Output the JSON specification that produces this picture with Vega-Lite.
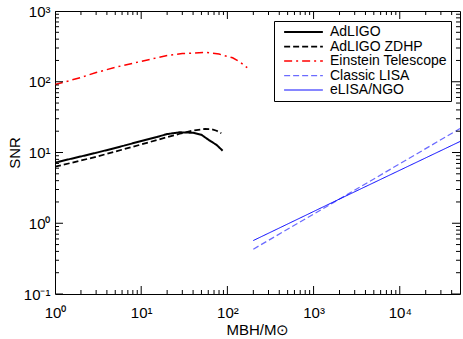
{
  "$schema": "https://vega.github.io/schema/vega-lite/v6.json",
  "width": 405,
  "height": 283,
  "autosize": "none",
  "padding": {"left": 55, "top": 11, "right": 3, "bottom": 45},
  "background": "white",
  "config": {
    "view": {"stroke": "black", "strokeWidth": 1},
    "font": "Liberation Sans",
    "axis": {"domain": false, "ticks": false, "grid": false, "labelColor": "black", "titleColor": "black", "labelFont": "Liberation Sans", "titleFont": "Liberation Sans", "titleFontWeight": "normal", "labelFontSize": 15, "titleFontSize": 15}
  },
  "datasets": {
    "curves": [
      {"series": "AdLIGO", "m": 1, "snr": 7.2},
      {"series": "AdLIGO", "m": 2, "snr": 8.8},
      {"series": "AdLIGO", "m": 3, "snr": 9.9},
      {"series": "AdLIGO", "m": 5, "snr": 11.6},
      {"series": "AdLIGO", "m": 10, "snr": 14.5},
      {"series": "AdLIGO", "m": 15, "snr": 16.5},
      {"series": "AdLIGO", "m": 20, "snr": 18.2},
      {"series": "AdLIGO", "m": 28, "snr": 19.3},
      {"series": "AdLIGO", "m": 40, "snr": 19.0},
      {"series": "AdLIGO", "m": 50, "snr": 17.8},
      {"series": "AdLIGO", "m": 62, "snr": 14.8},
      {"series": "AdLIGO", "m": 75, "snr": 12.8},
      {"series": "AdLIGO", "m": 88, "snr": 10.6},
      {"series": "AdLIGO ZDHP", "m": 1, "snr": 6.3},
      {"series": "AdLIGO ZDHP", "m": 2, "snr": 7.7},
      {"series": "AdLIGO ZDHP", "m": 3, "snr": 8.7},
      {"series": "AdLIGO ZDHP", "m": 5, "snr": 10.3},
      {"series": "AdLIGO ZDHP", "m": 10, "snr": 13.0},
      {"series": "AdLIGO ZDHP", "m": 20, "snr": 16.5},
      {"series": "AdLIGO ZDHP", "m": 28, "snr": 18.4},
      {"series": "AdLIGO ZDHP", "m": 40, "snr": 20.5},
      {"series": "AdLIGO ZDHP", "m": 55, "snr": 21.5},
      {"series": "AdLIGO ZDHP", "m": 65, "snr": 21.4},
      {"series": "AdLIGO ZDHP", "m": 75, "snr": 20.3},
      {"series": "AdLIGO ZDHP", "m": 85, "snr": 18.7},
      {"series": "Einstein Telescope", "m": 1, "snr": 91},
      {"series": "Einstein Telescope", "m": 2, "snr": 115},
      {"series": "Einstein Telescope", "m": 3, "snr": 135},
      {"series": "Einstein Telescope", "m": 5, "snr": 160},
      {"series": "Einstein Telescope", "m": 10, "snr": 194},
      {"series": "Einstein Telescope", "m": 20, "snr": 235},
      {"series": "Einstein Telescope", "m": 30, "snr": 250},
      {"series": "Einstein Telescope", "m": 57, "snr": 260},
      {"series": "Einstein Telescope", "m": 80, "snr": 246},
      {"series": "Einstein Telescope", "m": 115, "snr": 218},
      {"series": "Einstein Telescope", "m": 140, "snr": 190},
      {"series": "Einstein Telescope", "m": 170, "snr": 158},
      {"series": "Classic LISA", "m": 200, "snr": 0.43},
      {"series": "Classic LISA", "m": 2000, "snr": 2.2},
      {"series": "Classic LISA", "m": 50000, "snr": 21.8},
      {"series": "eLISA/NGO", "m": 200, "snr": 0.57},
      {"series": "eLISA/NGO", "m": 2000, "snr": 2.2},
      {"series": "eLISA/NGO", "m": 50000, "snr": 14.3}
    ],
    "xticks": [
      {"v": 1, "kind": "major"}, {"v": 2, "kind": "minor"}, {"v": 3, "kind": "minor"}, {"v": 4, "kind": "minor"}, {"v": 5, "kind": "minor"}, {"v": 6, "kind": "minor"}, {"v": 7, "kind": "minor"}, {"v": 8, "kind": "minor"}, {"v": 9, "kind": "minor"},
      {"v": 10, "kind": "major"}, {"v": 20, "kind": "minor"}, {"v": 30, "kind": "minor"}, {"v": 40, "kind": "minor"}, {"v": 50, "kind": "minor"}, {"v": 60, "kind": "minor"}, {"v": 70, "kind": "minor"}, {"v": 80, "kind": "minor"}, {"v": 90, "kind": "minor"},
      {"v": 100, "kind": "major"}, {"v": 200, "kind": "minor"}, {"v": 300, "kind": "minor"}, {"v": 400, "kind": "minor"}, {"v": 500, "kind": "minor"}, {"v": 600, "kind": "minor"}, {"v": 700, "kind": "minor"}, {"v": 800, "kind": "minor"}, {"v": 900, "kind": "minor"},
      {"v": 1000, "kind": "major"}, {"v": 2000, "kind": "minor"}, {"v": 3000, "kind": "minor"}, {"v": 4000, "kind": "minor"}, {"v": 5000, "kind": "minor"}, {"v": 6000, "kind": "minor"}, {"v": 7000, "kind": "minor"}, {"v": 8000, "kind": "minor"}, {"v": 9000, "kind": "minor"},
      {"v": 10000, "kind": "major"}, {"v": 20000, "kind": "minor"}, {"v": 30000, "kind": "minor"}, {"v": 40000, "kind": "minor"}
    ],
    "yticks": [
      {"v": 0.1, "kind": "major"}, {"v": 0.2, "kind": "minor"}, {"v": 0.3, "kind": "minor"}, {"v": 0.4, "kind": "minor"}, {"v": 0.5, "kind": "minor"}, {"v": 0.6, "kind": "minor"}, {"v": 0.7, "kind": "minor"}, {"v": 0.8, "kind": "minor"}, {"v": 0.9, "kind": "minor"},
      {"v": 1, "kind": "major"}, {"v": 2, "kind": "minor"}, {"v": 3, "kind": "minor"}, {"v": 4, "kind": "minor"}, {"v": 5, "kind": "minor"}, {"v": 6, "kind": "minor"}, {"v": 7, "kind": "minor"}, {"v": 8, "kind": "minor"}, {"v": 9, "kind": "minor"},
      {"v": 10, "kind": "major"}, {"v": 20, "kind": "minor"}, {"v": 30, "kind": "minor"}, {"v": 40, "kind": "minor"}, {"v": 50, "kind": "minor"}, {"v": 60, "kind": "minor"}, {"v": 70, "kind": "minor"}, {"v": 80, "kind": "minor"}, {"v": 90, "kind": "minor"},
      {"v": 100, "kind": "major"}, {"v": 200, "kind": "minor"}, {"v": 300, "kind": "minor"}, {"v": 400, "kind": "minor"}, {"v": 500, "kind": "minor"}, {"v": 600, "kind": "minor"}, {"v": 700, "kind": "minor"}, {"v": 800, "kind": "minor"}, {"v": 900, "kind": "minor"},
      {"v": 1000, "kind": "major"}
    ]
  },
  "layer": [
    {
      "data": {"name": "curves"},
      "mark": {"type": "line", "clip": true},
      "encoding": {
        "x": {"field": "m", "type": "quantitative",
          "scale": {"type": "log", "domain": [1, 50000], "nice": false},
          "axis": {"orient": "bottom", "title": "MBH/M⊙", "titlePadding": 2,
            "values": [1, 10, 100, 1000, 10000],
            "labelPadding": 11,
            "labelFlush": false,
            "labelExpr": "datum.value == 1 ? '10⁰' : datum.value == 10 ? '10¹' : datum.value == 100 ? '10²' : datum.value == 1000 ? '10³' : datum.value == 10000 ? '10⁴' : ''"}},
        "y": {"field": "snr", "type": "quantitative",
          "scale": {"type": "log", "domain": [0.1, 1000], "nice": false},
          "axis": {"orient": "left", "title": "SNR", "titlePadding": 1,
            "values": [0.1, 1, 10, 100, 1000],
            "labelPadding": 5,
            "labelFlush": false,
            "labelExpr": "datum.value == 0.1 ? '10⁻¹' : datum.value == 1 ? '10⁰' : datum.value == 10 ? '10¹' : datum.value == 100 ? '10²' : datum.value == 1000 ? '10³' : ''"}},
        "color": {"field": "series", "type": "nominal",
          "scale": {"domain": ["AdLIGO", "AdLIGO ZDHP", "Einstein Telescope", "Classic LISA", "eLISA/NGO"],
                    "range": ["#000000", "#000000", "#ff0000", "#6b6bff", "#0000ff"]},
          "legend": {"title": null, "orient": "none", "legendX": 219, "legendY": 10,
            "strokeColor": "black", "fillColor": "white", "padding": 4,
            "symbolType": "stroke", "symbolSize": 1500, "symbolOffset": 5, "clipHeight": 14, "labelFontSize": 14, "labelFont": "Liberation Sans", "labelColor": "black", "rowPadding": 0.5, "labelOffset": 6,
            "labelExpr": "datum.label + '\u00a0\u00a0\u00a0'"}},
        "strokeDash": {"field": "series", "type": "nominal",
          "scale": {"domain": ["AdLIGO", "AdLIGO ZDHP", "Einstein Telescope", "Classic LISA", "eLISA/NGO"],
                    "range": [[1, 0], [6, 3], [8, 4, 2, 4], [6, 3], [1, 0]]},
          "legend": {"title": null}},
        "strokeWidth": {"field": "series", "type": "nominal",
          "scale": {"domain": ["AdLIGO", "AdLIGO ZDHP", "Einstein Telescope", "Classic LISA", "eLISA/NGO"],
                    "range": [2, 1, 2, 1.2, 2]},
          "legend": {"title": null}},
        "detail": {"field": "series"}
      }
    },
    {
      "data": {"name": "xticks"},
      "mark": {"type": "tick", "orient": "vertical", "thickness": 1, "clip": true, "color": "black", "opacity": 1},
      "encoding": {
        "x": {"field": "v", "type": "quantitative"},
        "y": {"datum": 0.1, "type": "quantitative"},
        "size": {"field": "kind", "type": "nominal", "scale": {"domain": ["major", "minor"], "range": [16, 8]}, "legend": null}
      }
    },
    {
      "data": {"name": "xticks"},
      "mark": {"type": "tick", "orient": "vertical", "thickness": 1, "clip": true, "color": "black", "opacity": 1},
      "encoding": {
        "x": {"field": "v", "type": "quantitative"},
        "y": {"datum": 1000, "type": "quantitative"},
        "size": {"field": "kind", "type": "nominal", "scale": {"domain": ["major", "minor"], "range": [16, 8]}, "legend": null}
      }
    },
    {
      "data": {"name": "yticks"},
      "mark": {"type": "tick", "orient": "horizontal", "thickness": 1, "clip": true, "color": "black", "opacity": 1},
      "encoding": {
        "y": {"field": "v", "type": "quantitative"},
        "x": {"datum": 1, "type": "quantitative"},
        "size": {"field": "kind", "type": "nominal", "scale": {"domain": ["major", "minor"], "range": [16, 8]}, "legend": null}
      }
    },
    {
      "data": {"name": "yticks"},
      "mark": {"type": "tick", "orient": "horizontal", "thickness": 1, "clip": true, "color": "black", "opacity": 1},
      "encoding": {
        "y": {"field": "v", "type": "quantitative"},
        "x": {"datum": 50000, "type": "quantitative"},
        "size": {"field": "kind", "type": "nominal", "scale": {"domain": ["major", "minor"], "range": [16, 8]}, "legend": null}
      }
    }
  ]
}
